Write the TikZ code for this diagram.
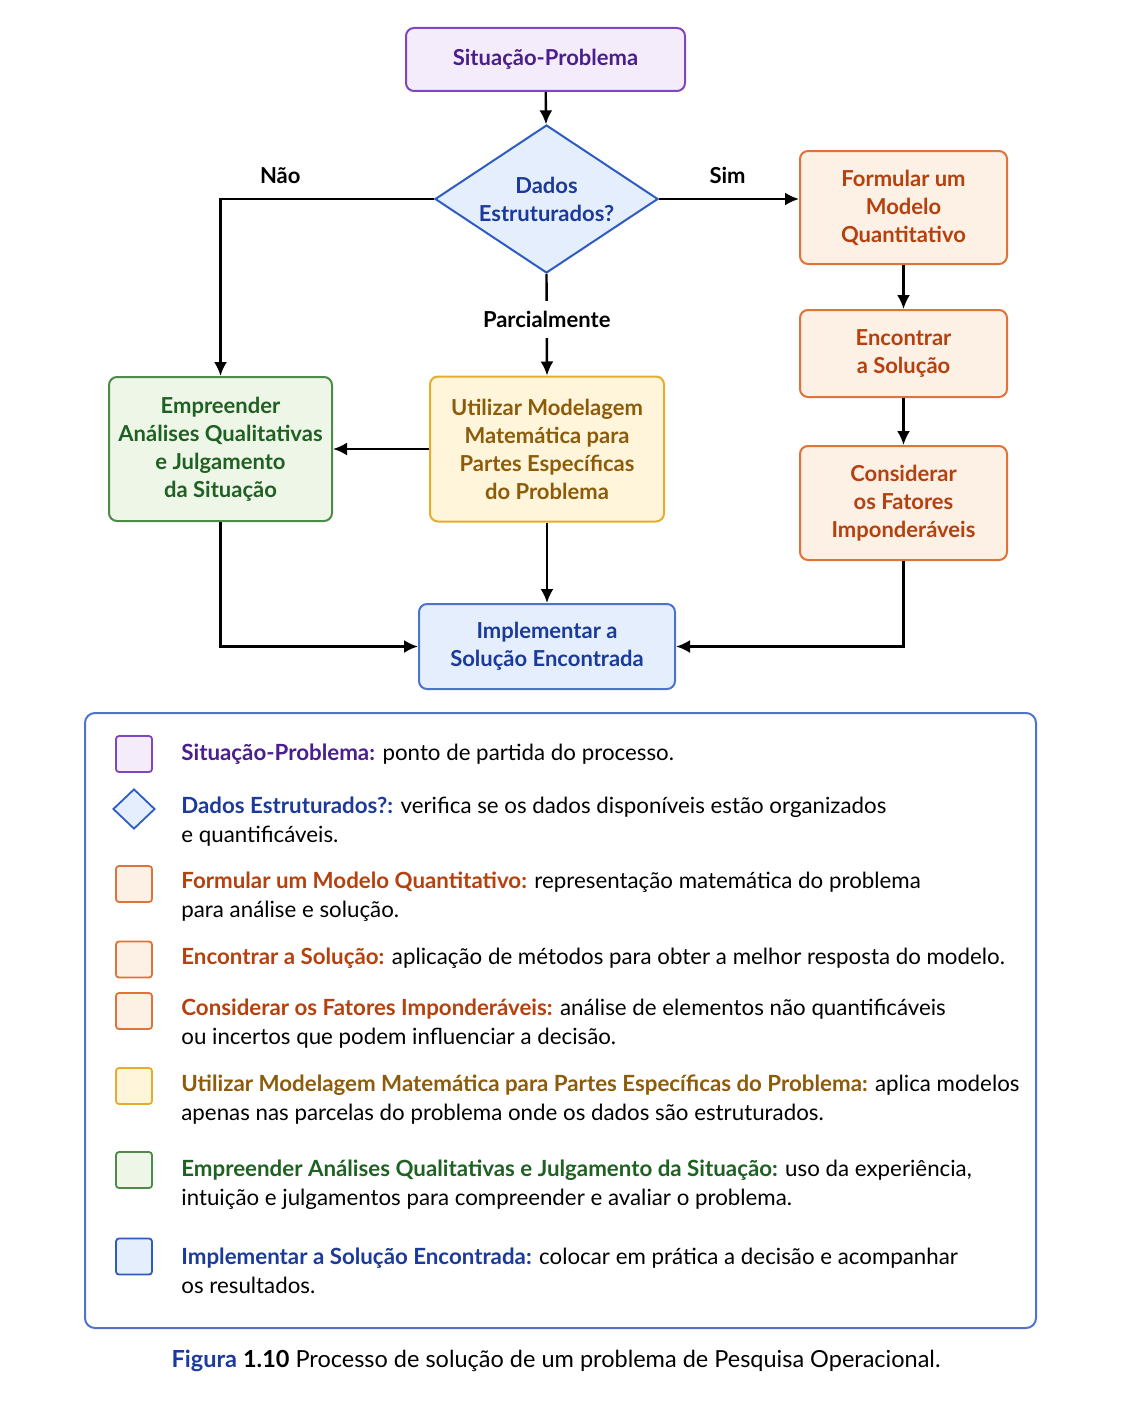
\documentclass[tikz,border=0pt]{standalone}
\usepackage{fontspec}
\setmainfont{Lato}
\usepackage{tikz}
\usetikzlibrary{shapes.geometric,arrows.meta}

\definecolor{roxoborda}{HTML}{7F46C2}
\definecolor{roxofundo}{HTML}{F4ECFB}
\definecolor{roxotexto}{HTML}{4A1E8C}
\definecolor{azulborda}{HTML}{2E5CC0}
\definecolor{azulfundo}{HTML}{E4EEFC}
\definecolor{azultexto}{HTML}{1B3A9A}
\definecolor{laranjaborda}{HTML}{E0733A}
\definecolor{laranjafundo}{HTML}{FDF0E4}
\definecolor{laranjatexto}{HTML}{B5410F}
\definecolor{amareloborda}{HTML}{E5AC2E}
\definecolor{amarelofundo}{HTML}{FEF5DA}
\definecolor{amarelotexto}{HTML}{8C5C0C}
\definecolor{verdeborda}{HTML}{4E8A4A}
\definecolor{verdefundo}{HTML}{EEF6E8}
\definecolor{verdetexto}{HTML}{1F6122}

\begin{document}
\begin{tikzpicture}[x=0.5pt,y=-0.5pt,>={Latex[length=7pt,width=6.5pt]},
    every node/.style={font=\fontsize{11}{14}\selectfont\bfseries,align=center},
    caixa/.style={rectangle,rounded corners=4pt,line width=1pt,inner sep=2pt},
    icone/.style={rectangle,rounded corners=1.5pt,line width=0.9pt,minimum size=18pt,inner sep=0pt},
    roxo/.style={draw=roxoborda,fill=roxofundo,text=roxotexto},
    azul/.style={draw=azulborda,fill=azulfundo,text=azultexto},
    laranja/.style={draw=laranjaborda,fill=laranjafundo,text=laranjatexto},
    amarelo/.style={draw=amareloborda,fill=amarelofundo,text=amarelotexto},
    verde/.style={draw=verdeborda,fill=verdefundo,text=verdetexto},
    seta/.style={->,line width=1.2pt},
    rotulo/.style={font=\fontsize{11}{13}\selectfont\bfseries,text=black},
    legtxt/.style={anchor=west,align=left,inner sep=0pt,font=\fontsize{11.15}{14.5}\selectfont}]
    \useasboundingbox (0,0) rectangle (1122,1402);

    % fluxograma
    \node[caixa,roxo,minimum width=139.5pt,minimum height=31.5pt] (sit) at (545.5,59.5) {Situação-Problema};
    \node[diamond,aspect=1.5,inner sep=0pt,line width=1pt,azul,minimum width=111.5pt,minimum height=74pt] (dados) at (546.5,199) {Dados\\Estruturados?};
    \node[caixa,laranja,minimum width=103.5pt,minimum height=56.5pt] (formular) at (903.5,207.5) {Formular um\\Modelo\\Quantitativo};
    \node[caixa,laranja,minimum width=103.5pt,minimum height=43.5pt] (encontrar) at (903.5,353.5) {Encontrar\\a Solução};
    \node[caixa,laranja,minimum width=103.5pt,minimum height=57pt] (considerar) at (903.5,503) {Considerar\\os Fatores\\Imponderáveis};
    \node[caixa,verde,minimum width=111.5pt,minimum height=72pt] (empre) at (220.5,449) {Empreender\\Análises Qualitativas\\e Julgamento\\da Situação};
    \node[caixa,amarelo,minimum width=117pt,minimum height=72.5pt] (util) at (547,449) {Utilizar Modelagem\\Matemática para\\Partes Específicas\\do Problema};
    \node[caixa,azul,draw=azulborda!85!white,minimum width=128pt,minimum height=42.5pt] (impl) at (547,646.5) {Implementar a\\Solução Encontrada};

    \draw[seta] (sit) -- (dados);
    \draw[seta] (dados.west) -| node[rotulo,pos=0.36,above=3.5pt] (nao) {Não} (empre.north);
    \draw[seta] (dados.east) -- node[rotulo,pos=0.49,above=3.5pt] (sim) {Sim} (dados.east -| formular.west);
    \draw[seta] (dados.south) -- node[rotulo,fill=white,inner ysep=5pt,pos=0.45] (parc) {Parcialmente} (util.north);
    \draw[seta] (formular) -- (encontrar);
    \draw[seta] (encontrar) -- (considerar);
    \draw[seta] (util.west) -- (empre.east);
    \draw[seta] (util.south) -- (impl.north);
    \draw[seta] (empre.south) |- (impl.west);
    \draw[seta] (considerar.south) |- (impl.east);

    % legenda
    \node[draw=azulborda!85!white,line width=1pt,rounded corners=5pt,minimum width=475.5pt,minimum height=307.5pt] (quadro) at (560.5,1020.5) {};

    \node[icone,roxo] (i1) at (134,754) {};
    \node[legtxt] (t1) at (181,754) {\textcolor{roxotexto}{\bfseries Situação-Problema:} ponto de partida do processo.};
    \node[diamond,azul,line width=0.9pt,inner sep=0pt,minimum width=21pt,minimum height=20pt] (i2) at (134,809) {};
    \node[legtxt] (t2) at (181,821.5) {\textcolor{azultexto}{\bfseries Dados Estruturados?:} verifica se os dados disponíveis estão organizados\\e quantificáveis.};
    \node[icone,laranja] (i3) at (134,884) {};
    \node[legtxt] (t3) at (181,897) {\textcolor{laranjatexto}{\bfseries Formular um Modelo Quantitativo:} representação matemática do problema\\para análise e solução.};
    \node[icone,laranja] (i4) at (134,959.5) {};
    \node[legtxt] (t4) at (181,958) {\textcolor{laranjatexto}{\bfseries Encontrar a Solução:} aplicação de métodos para obter a melhor resposta do modelo.};
    \node[icone,laranja] (i5) at (134,1011) {};
    \node[legtxt] (t5) at (181,1023.5) {\textcolor{laranjatexto}{\bfseries Considerar os Fatores Imponderáveis:} análise de elementos não quantificáveis\\ou incertos que podem influenciar a decisão.};
    \node[icone,amarelo] (i6) at (134,1086) {};
    \node[legtxt] (t6) at (181,1099.5) {\textcolor{amarelotexto}{\bfseries Utilizar Modelagem Matemática para Partes Específicas do Problema:} aplica modelos\\apenas nas parcelas do problema onde os dados são estruturados.};
    \node[icone,verde] (i7) at (134,1170) {};
    \node[legtxt] (t7) at (181,1185) {\textcolor{verdetexto}{\bfseries Empreender Análises Qualitativas e Julgamento da Situação:} uso da experiência,\\intuição e julgamentos para compreender e avaliar o problema.};
    \node[icone,azul] (i8) at (134,1256.5) {};
    \node[legtxt] (t8) at (181,1271) {\textcolor{azultexto}{\bfseries Implementar a Solução Encontrada:} colocar em prática a decisão e acompanhar\\os resultados.};

    \node[font=\fontsize{11.75}{14}\selectfont] (legenda) at (556,1361) {\textcolor{azultexto}{\bfseries Figura} \textbf{1.10} Processo de solução de um problema de Pesquisa Operacional.};
\end{tikzpicture}
\end{document}
